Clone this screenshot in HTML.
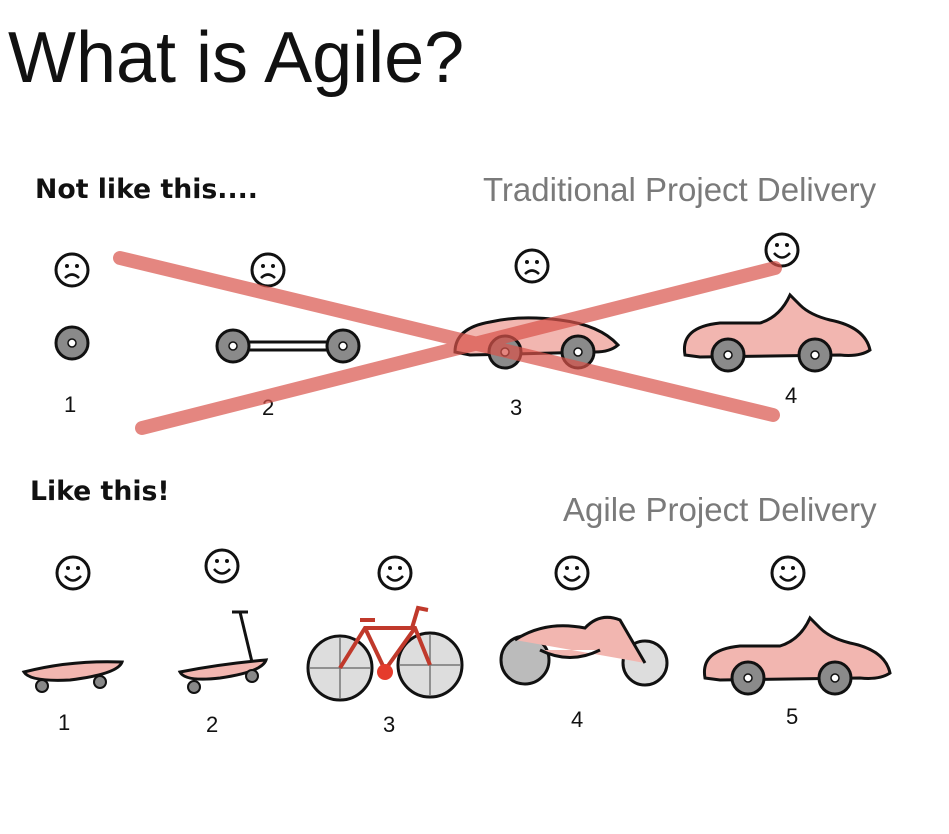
<!DOCTYPE html>
<html><head><meta charset="utf-8"><style>
html,body{margin:0;padding:0;background:#fff;width:949px;height:834px;overflow:hidden}
svg{display:block}
.hand{font-family:"DejaVu Sans Condensed","Liberation Sans",sans-serif;font-weight:bold;fill:#111}
.gray{font-family:"Liberation Sans",sans-serif;fill:#7a7a7a;font-size:33px}
.num{font-family:"Liberation Sans",sans-serif;font-size:22px;fill:#111}
</style></head><body>
<svg width="949" height="834" viewBox="0 0 949 834" xmlns="http://www.w3.org/2000/svg">
<defs>
<g id="sad"><circle r="16" fill="#fff" stroke="#111" stroke-width="3"/><circle cx="-5" cy="-4" r="2" fill="#111"/><circle cx="5" cy="-4" r="2" fill="#111"/><path d="M-7 8 Q0 1 7 8" fill="none" stroke="#111" stroke-width="2.5"/></g>
<g id="happy"><circle r="16" fill="#fff" stroke="#111" stroke-width="3"/><circle cx="-5" cy="-5" r="2" fill="#111"/><circle cx="5" cy="-5" r="2" fill="#111"/><path d="M-8 3 Q0 12 8 3" fill="none" stroke="#111" stroke-width="2.5"/></g>
<g id="wheel"><circle r="16" fill="#8a8a8a" stroke="#111" stroke-width="3"/><circle r="4" fill="#fff" stroke="#111" stroke-width="1.5"/></g>
<g id="car">
<path d="M-95 10 Q-100 -18 -60 -22 L-20 -22 Q0 -28 10 -50 L20 -40 Q30 -30 50 -25 Q85 -18 90 5 Q80 12 60 10 L-80 12 Z" fill="#f2b6b0" stroke="#111" stroke-width="3"/>
<use href="#wheel" x="-52" y="10"/><use href="#wheel" x="35" y="10"/>
</g>
</defs>
<text x="8" y="82" font-family="Liberation Sans,sans-serif" font-size="72" fill="#111">What is Agile?</text>
<text x="35" y="198" class="hand" font-size="27" transform="translate(35 198) scale(1.1 1) translate(-35 -198)">Not like this....</text>
<text x="483" y="201" class="gray">Traditional Project Delivery</text>

<use href="#sad" x="72" y="270"/><use href="#sad" x="268" y="270"/><use href="#sad" x="532" y="266"/><use href="#happy" x="782" y="250"/>
<use href="#wheel" x="72" y="343"/>
<path d="M233 342 L343 342 M233 350 L343 350" stroke="#111" stroke-width="3"/>
<use href="#wheel" x="233" y="346"/><use href="#wheel" x="343" y="346"/>
<path d="M455 352 Q455 328 490 322 Q520 315 560 320 Q600 325 618 345 Q610 352 595 352 L470 355 Z" fill="#f2b6b0" stroke="#111" stroke-width="3"/>
<use href="#wheel" x="505" y="352"/><use href="#wheel" x="578" y="352"/>
<use href="#car" x="780" y="345"/>
<text x="64" y="412" class="num">1</text><text x="262" y="415" class="num">2</text><text x="510" y="415" class="num">3</text><text x="785" y="403" class="num">4</text>
<path d="M120 258 L773 415 M142 428 L775 268" stroke="#d9534a" stroke-opacity="0.7" stroke-width="14" stroke-linecap="round"/>

<text x="30" y="500" class="hand" font-size="27" transform="translate(30 500) scale(1.1 1) translate(-30 -500)">Like this!</text>
<text x="563" y="521" class="gray">Agile Project Delivery</text>
<use href="#happy" x="73" y="573"/><use href="#happy" x="222" y="566"/><use href="#happy" x="395" y="573"/><use href="#happy" x="572" y="573"/><use href="#happy" x="788" y="573"/>
<path d="M24 672 Q70 660 122 662 Q118 674 70 680 Q30 682 24 672Z" fill="#f2b6b0" stroke="#111" stroke-width="3"/>
<circle cx="42" cy="686" r="6" fill="#888" stroke="#111" stroke-width="2"/><circle cx="100" cy="682" r="6" fill="#888" stroke="#111" stroke-width="2"/>
<path d="M180 672 Q220 664 266 660 Q262 672 220 678 Q185 682 180 672Z" fill="#f2b6b0" stroke="#111" stroke-width="3"/>
<path d="M252 662 L240 612 M232 612 L248 612" stroke="#111" stroke-width="3"/>
<circle cx="194" cy="687" r="6" fill="#888" stroke="#111" stroke-width="2"/><circle cx="252" cy="676" r="6" fill="#888" stroke="#111" stroke-width="2"/>
<circle cx="340" cy="668" r="32" fill="#ddd" stroke="#111" stroke-width="3"/><circle cx="430" cy="665" r="32" fill="#ddd" stroke="#111" stroke-width="3"/>
<path d="M310 668 L370 668 M340 638 L340 698 M400 665 L460 665 M430 635 L430 695" stroke="#777" stroke-width="1.5"/>
<path d="M340 668 L365 628 L415 628 L430 665 M365 628 L385 670 L415 628 M360 620 L375 620 M412 628 L418 608 L428 610" fill="none" stroke="#c0392b" stroke-width="4"/>
<circle cx="385" cy="672" r="8" fill="#e53b2c"/>
<circle cx="525" cy="660" r="24" fill="#bbb" stroke="#111" stroke-width="3"/><circle cx="645" cy="663" r="22" fill="#ddd" stroke="#111" stroke-width="3"/>
<path d="M515 640 Q545 620 585 628 Q600 612 620 620 L645 663 M540 650 Q570 665 600 650" fill="#f2b6b0" stroke="#111" stroke-width="3"/>
<use href="#car" x="800" y="668"/>
<text x="58" y="730" class="num">1</text><text x="206" y="732" class="num">2</text><text x="383" y="732" class="num">3</text><text x="571" y="727" class="num">4</text><text x="786" y="724" class="num">5</text>
</svg>
</body></html>
